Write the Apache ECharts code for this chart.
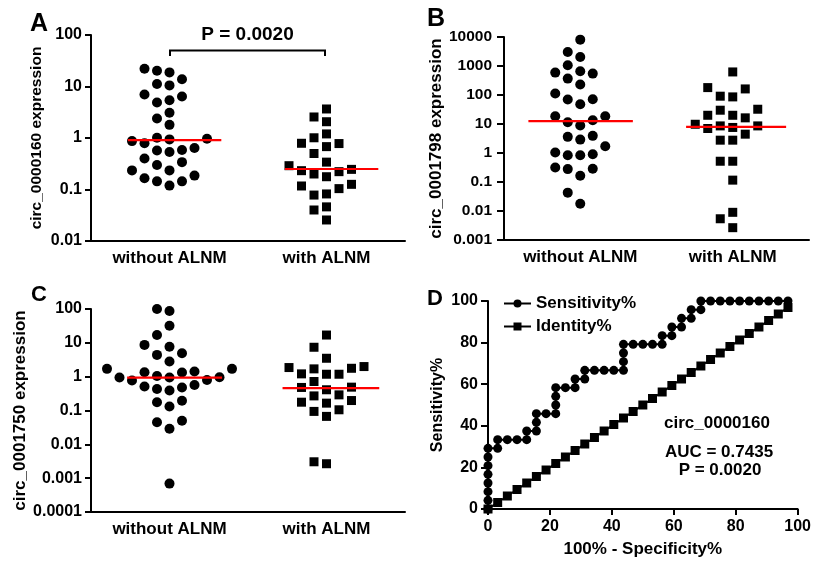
<!DOCTYPE html>
<html><head><meta charset="utf-8">
<script src="https://cdn.jsdelivr.net/npm/echarts@6/dist/echarts.min.js"></script>
<style>html,body{margin:0;padding:0;background:#fff}#c{width:814px;height:561px}</style>
</head><body><div id="c"></div>
<script>
// ---------- data ----------
const groups = ['without ALNM', 'with ALNM'];

const aWithout = [22.2, 20.3, 18.8, 13.8, 11.2, 10.5, 7.0, 6.4, 5.4, 4.9, 3.1, 2.4, 1.8, 1.01, 0.97, 0.94,
  0.87, 0.79, 0.64, 0.585, 0.57, 0.535, 0.40, 0.34, 0.30, 0.235, 0.235, 0.186, 0.165, 0.144, 0.144, 0.119];
const aWith = [3.66, 2.56, 2.07, 1.20, 1.01, 0.79, 0.78, 0.68, 0.50, 0.34, 0.29, 0.246, 0.232, 0.222,
  0.20, 0.177, 0.126, 0.117, 0.104, 0.082, 0.078, 0.046, 0.040, 0.0256];
const aMedians = [0.91, 0.25];

const bWithout = [8100, 3050, 2050, 1060, 658, 592, 547, 368, 229, 112, 71, 70, 48, 18.6, 18.6, 13.5,
  11.5, 8.9, 3.9, 3.6, 2.9, 1.72, 1.04, 0.91, 0.84, 0.84, 0.317, 0.286, 0.278, 0.164, 0.043, 0.0178];
const bWith = [624, 180, 162, 91, 86, 32.3, 29.9, 20, 20, 16.3, 9.8, 8.6, 8.6, 7.6, 7.0, 4.46, 2.77,
  2.77, 0.52, 0.52, 0.116, 0.0090, 0.0054, 0.00266];
const bMedians = [12.5, 8.0];

const cWithout = [100, 87, 32, 17, 8.7, 7.7, 4.9, 4.4, 2.8, 1.70, 1.70, 1.42, 1.35, 1.32, 1.05, 0.96,
  0.94, 0.94, 0.80, 0.77, 0.57, 0.51, 0.48, 0.43, 0.39, 0.193, 0.176, 0.131, 0.050, 0.045, 0.029, 0.00069];
const cWith = [17, 7.4, 3.5, 1.99, 1.86, 1.77, 1.70, 1.21, 1.18, 1.18, 0.72, 0.49, 0.48, 0.41, 0.29,
  0.27, 0.197, 0.176, 0.165, 0.105, 0.094, 0.067, 0.00305, 0.00267];
const cMedians = [0.94, 0.456];

const rocFpr = [0, 0, 0, 0, 0, 0, 0, 0, 3.125, 3.125, 6.25, 9.375, 12.5, 12.5, 15.625, 15.625, 15.625,
  18.75, 21.875, 21.875, 21.875, 21.875, 25, 28.125, 28.125, 31.25, 31.25, 34.375, 37.5, 40.625,
  43.75, 43.75, 43.75, 43.75, 46.875, 50, 53.125, 56.25, 56.25, 59.375, 59.375, 62.5, 62.5,
  65.625, 65.625, 68.75, 68.75, 71.875, 75, 78.125, 81.25, 84.375, 87.5, 90.625, 93.75, 96.875];
const rocSens = [0, 4.17, 8.33, 12.5, 16.67, 20.83, 25, 29.17, 29.17, 33.33, 33.33, 33.33, 33.33, 37.5,
  37.5, 41.67, 45.83, 45.83, 45.83, 50, 54.17, 58.33, 58.33, 58.33, 62.5, 62.5, 66.67, 66.67, 66.67,
  66.67, 66.67, 70.83, 75, 79.17, 79.17, 79.17, 79.17, 79.17, 83.33, 83.33, 87.5, 87.5, 91.67,
  91.67, 95.83, 95.83, 100, 100, 100, 100, 100, 100, 100, 100, 100, 100];
const identityX = [0, 3.125, 6.25, 9.375, 12.5, 15.625, 18.75, 21.875, 25, 28.125, 31.25, 34.375, 37.5,
  40.625, 43.75, 46.875, 50, 53.125, 56.25, 59.375, 62.5, 65.625, 68.75, 71.875, 75, 78.125, 81.25,
  84.375, 87.5, 90.625, 93.75, 96.875];
const identityY = [0, 3.125, 6.25, 9.375, 12.5, 15.625, 18.75, 21.875, 25, 28.125, 31.25, 34.375, 37.5,
  40.625, 43.75, 46.875, 50, 53.125, 56.25, 59.375, 62.5, 65.625, 68.75, 71.875, 75, 78.125, 81.25,
  84.375, 87.5, 90.625, 93.75, 96.875];

const yNames = ['circ_0000160 expression', 'circ_0001798 expression', 'circ_0001750 expression'];
const yRanges = [[0.01, 100], [0.001, 10000], [0.0001, 100]];

// ---------- layout ----------
const FONT = '"Liberation Sans", Arial, Helvetica, sans-serif';
const grids = [
  { left: 91, top: 35, width: 314, height: 206 },
  { left: 504, top: 37, width: 305, height: 203 },
  { left: 91, top: 309, width: 314, height: 203 },
  { left: 488, top: 301, width: 312, height: 208 }
];
const panelStyle = [
  { yFont: 16, nameFont: 15.5, nameGap: 46, tickLen: 6, labMargin: 9, line: [[-0.265, 0.33], [-0.265, 0.33]] },
  { yFont: 15.5, nameFont: 17, nameGap: 59, tickLen: 7, labMargin: 12, line: [[-0.34, 0.345], [-0.306, 0.35]] },
  { yFont: 16, nameFont: 17, nameGap: 59, tickLen: 6, labMargin: 9, line: [[-0.27, 0.335], [-0.28, 0.336]] }
];
const axisLineStyle = { color: '#000', width: 2 };

function fmtLog(v) {
  const e = Math.round(Math.log10(v));
  return e >= 0 ? String(Math.pow(10, e)) : '0.' + '0'.repeat(-e - 1) + '1';
}

// beeswarm layout: place points in columns so that they do not overlap
function swarm(values, cat, pxPerDecade, colUnit, gapPx) {
  const order = values.map((v, i) => i).sort((a, b) => values[a] - values[b]);
  const placed = [];
  const out = new Array(values.length);
  const thr = gapPx / pxPerDecade;
  order.forEach(i => {
    const ly = Math.log10(values[i]);
    for (let k = 0; k < 40; k++) {
      const col = k === 0 ? 0 : (k % 2 ? -Math.ceil(k / 2) : Math.ceil(k / 2));
      if (!placed.some(p => p.col === col && Math.abs(p.ly - ly) < thr)) {
        placed.push({ col, ly });
        out[i] = [cat + col * colUnit, values[i]];
        break;
      }
    }
  });
  return out;
}

const panels = [[aWithout, aWith, aMedians], [bWithout, bWith, bMedians], [cWithout, cWith, cMedians]];
const xAxis = [], yAxis = [], series = [];

panels.forEach((p, i) => {
  const g = grids[i], st = panelStyle[i];
  const [mn, mx] = yRanges[i];
  const decades = Math.log10(mx) - Math.log10(mn);
  const pxPerDecade = g.height / decades;
  const colUnit = 12.5 / (g.width / 2);
  xAxis.push({
    type: 'category', gridIndex: i, data: groups, boundaryGap: true,
    axisLine: { onZero: false, lineStyle: axisLineStyle },
    axisTick: { alignWithLabel: true, length: 6, lineStyle: axisLineStyle },
    axisLabel: { color: '#000', fontFamily: FONT, fontWeight: 'bold', fontSize: 17, margin: 9 },
    splitLine: { show: false }
  });
  xAxis.push({ type: 'value', gridIndex: i, min: -0.5, max: 1.5, show: false });
  yAxis.push({
    type: 'log', logBase: 10, gridIndex: i, min: mn, max: mx, interval: 1,
    name: yNames[i], nameLocation: 'middle', nameGap: st.nameGap,
    nameTextStyle: { color: '#000', fontFamily: FONT, fontWeight: 'bold', fontSize: st.nameFont },
    axisLine: { show: true, onZero: false, lineStyle: axisLineStyle },
    axisTick: { show: true, length: st.tickLen, lineStyle: axisLineStyle },
    axisLabel: { color: '#000', fontFamily: FONT, fontWeight: 'bold', fontSize: st.yFont, margin: st.labMargin, formatter: fmtLog },
    splitLine: { show: false }, minorTick: { show: false }
  });
  const xi = i * 2 + 1;
  series.push({
    type: 'scatter', xAxisIndex: xi, yAxisIndex: i, symbol: 'circle', symbolSize: 10,
    itemStyle: { color: '#000', opacity: 1 }, data: swarm(p[0], 0, pxPerDecade, colUnit, 12), z: 2
  });
  series.push({
    type: 'scatter', xAxisIndex: xi, yAxisIndex: i, symbol: 'rect', symbolSize: 9,
    itemStyle: { color: '#000', opacity: 1 }, data: swarm(p[1], 1, pxPerDecade, colUnit, 12), z: 2
  });
  [0, 1].forEach(c => {
    series.push({
      type: 'line', xAxisIndex: xi, yAxisIndex: i, symbol: 'none', z: 3,
      lineStyle: { color: '#ff0000', width: 2.2 },
      data: [[c + st.line[c][0], p[2][c]], [c + st.line[c][1], p[2][c]]]
    });
  });
});

// Panel D
xAxis.push({
  type: 'value', gridIndex: 3, min: 0, max: 100, interval: 20,
  name: '100% - Specificity%', nameLocation: 'middle', nameGap: 32,
  nameTextStyle: { color: '#000', fontFamily: FONT, fontWeight: 'bold', fontSize: 17 },
  axisLine: { onZero: false, lineStyle: axisLineStyle },
  axisTick: { length: 6, lineStyle: axisLineStyle },
  axisLabel: { color: '#000', fontFamily: FONT, fontWeight: 'bold', fontSize: 16, margin: 10 },
  splitLine: { show: false }
});
yAxis.push({
  type: 'value', gridIndex: 3, min: 0, max: 100, interval: 20,
  name: 'Sensitivity%', nameLocation: 'middle', nameGap: 42,
  nameTextStyle: { color: '#000', fontFamily: FONT, fontWeight: 'bold', fontSize: 16 },
  axisLine: { show: true, onZero: false, lineStyle: axisLineStyle },
  axisTick: { show: true, length: 7, lineStyle: axisLineStyle },
  axisLabel: { color: '#000', fontFamily: FONT, fontWeight: 'bold', fontSize: 16, margin: 10 },
  splitLine: { show: false }
});
series.push({
  name: 'Sensitivity%', type: 'line', xAxisIndex: 6, yAxisIndex: 3, symbol: 'circle', symbolSize: 9,
  showAllSymbol: true, itemStyle: { color: '#000', opacity: 1 }, lineStyle: { color: '#000', width: 2 },
  data: rocFpr.map((x, i) => [x, rocSens[i]]), z: 3
});
series.push({
  name: 'Identity%', type: 'line', xAxisIndex: 6, yAxisIndex: 3, symbol: 'rect', symbolSize: 9,
  showAllSymbol: true, itemStyle: { color: '#000', opacity: 1 }, lineStyle: { color: '#000', width: 2 },
  data: identityX.map((x, i) => [x, identityY[i]]), z: 2
});

const boldText = (x, y, text, size, align) => ({
  type: 'text', x, y, style: { text, fill: '#000', font: `bold ${size}px ${FONT}`, align: align || 'center', verticalAlign: 'middle' }
});

const option = {
  animation: false,
  backgroundColor: '#fff',
  grid: grids.map(g => Object.assign({ containLabel: false }, g)),
  xAxis, yAxis, series,
  legend: {
    data: ['Sensitivity%', 'Identity%'], orient: 'vertical', left: 503, top: 295,
    itemWidth: 27, itemHeight: 10, itemGap: 6, padding: 0,
    textStyle: { color: '#000', fontFamily: FONT, fontWeight: 'bold', fontSize: 17 }
  },
  graphic: [
    boldText(30, 24, 'A', 25, 'left'),
    boldText(427, 19, 'B', 25, 'left'),
    boldText(31, 295, 'C', 22, 'left'),
    boldText(427, 299, 'D', 22, 'left'),
    boldText(247.5, 34.5, 'P = 0.0020', 19),
    { type: 'polyline', shape: { points: [[170, 56], [170, 50.5], [325, 50.5], [325, 56]] },
      style: { stroke: '#000', lineWidth: 2, fill: null } },
    boldText(717, 423, 'circ_0000160', 17),
    boldText(719, 452, 'AUC = 0.7435', 17),
    boldText(720, 470, 'P = 0.0020', 17)
  ]
};

const chart = echarts.init(document.getElementById('c'), null, { renderer: 'canvas' });
chart.setOption(option);
</script>
</body></html>
